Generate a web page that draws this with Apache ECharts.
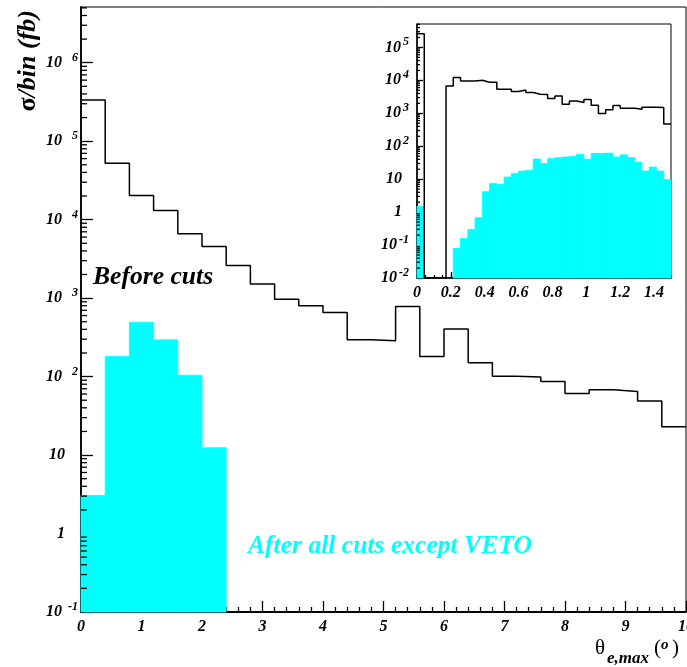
<!DOCTYPE html>
<html>
<head>
<meta charset="utf-8">
<script src="https://cdn.jsdelivr.net/npm/echarts@6/dist/echarts.min.js"></script>
<style>
html,body{margin:0;padding:0;background:#fff;}
#chart{width:687px;height:667px;}
</style>
</head>
<body>
<div id="chart"></div>
<script>
// ---------------- data ----------------
// Main plot: theta_e,max from 0 to 10 degrees, 25 bins of 0.4
const mainXRange = [0, 10];
const mainBinWidth = 0.4;
const mainYRange = [0.1, 5.13e6];
const mainBefore = [3.36e5, 5.25e4, 2.03e4, 1.31e4, 6590, 4540, 2600, 1510, 971, 798,
                    656, 294, 286, 782, 180, 403, 150, 101, 98.6, 86.7,
                    61, 68, 64.6, 49, 23];
const mainAfter  = [3.05, 180, 494, 294, 104, 12.4, 0, 0, 0, 0,
                    0, 0, 0, 0, 0, 0, 0, 0, 0, 0,
                    0, 0, 0, 0, 0];
// Inset: 0 to 1.5 degrees, 35 bins
const insetXRange = [0, 1.5];
const insetBinCount = 35;
const insetYRange = [0.01, 5.13e5];
const insetBefore = [2.6e5, 0, 0, 0, 6760, 12200, 9600, 9600, 10000, 8750,
                     8750, 5360, 5360, 4560, 5100, 4250, 3780, 3700, 2800, 3360,
                     1880, 2370, 2110, 2610, 1750, 980, 1290, 1710, 1420, 1420,
                     1320, 1520, 1520, 1490, 473];
const insetAfter  = [1.49, 0, 0, 0, 0, 0.079, 0.159, 0.298, 0.676, 4.17,
                     7.45, 6.95, 11.6, 15.0, 17.6, 18.5, 40.8, 29.6, 42, 45,
                     47, 49, 56.7, 40, 60.8, 60, 62, 47, 54.8, 45,
                     33, 17.6, 23.3, 17.6, 9.7];
// Texts
const yTitleSymbol = 'σ';
const yTitleRest = '/bin (fb)';
const labelBefore = 'Before cuts';
const labelAfter = 'After all cuts except VETO';

// ---------------- helpers ----------------
const FONT = '"Liberation Serif", "Times New Roman", serif';
const L = v => Math.round(Math.log10(v) * 1e9) / 1e9;
const CYAN = '#00ffff';

function stepData(lo, w, vals, vmin) {
  const pts = vals.map((v, i) => [lo + i * w, L(Math.max(v, vmin))]);
  pts.push([lo + vals.length * w, L(Math.max(vals[vals.length - 1], vmin))]);
  return pts;
}
function rectData(lo, w, vals) {
  const out = [];
  vals.forEach((v, i) => { if (v > 0) out.push([lo + i * w, lo + (i + 1) * w, L(v)]); });
  return out;
}
function minorTickData(xAt, logMin, logMax) {
  const out = [];
  for (let n = Math.floor(logMin); n < logMax; n++) {
    for (let k = 2; k <= 9; k++) {
      const l = n + Math.log10(k);
      if (l > logMin && l < logMax) out.push([xAt, l]);
    }
  }
  return out;
}
function rectSeries(xi, yi, data, yMinL) {
  return { type: 'custom', xAxisIndex: xi, yAxisIndex: yi, silent: true, z: 2,
    encode: { x: [0, 1], y: 2 }, data: data,
    renderItem: (params, api) => {
      const p0 = api.coord([api.value(0), api.value(2)]);
      const p1 = api.coord([api.value(1), yMinL]);
      return { type: 'rect', shape: { x: p0[0], y: p0[1], width: p1[0] - p0[0], height: p1[1] - p0[1] },
               style: { fill: CYAN, stroke: CYAN, lineWidth: 0.8 } };
    } };
}
function stepSeries(xi, yi, data) {
  return { type: 'line', xAxisIndex: xi, yAxisIndex: yi, data: data, step: 'end', symbol: 'none',
           silent: true, z: 3, lineStyle: { color: '#000', width: 1.5 } };
}
function tickSeries(xi, yi, data, len) {
  return { type: 'custom', xAxisIndex: xi, yAxisIndex: yi, silent: true, z: 5, clip: false,
    encode: { x: 0, y: 1 }, data: data,
    renderItem: (params, api) => {
      const c = api.coord([api.value(0), api.value(1)]);
      return { type: 'line', shape: { x1: c[0], y1: c[1], x2: c[0] + len, y2: c[1] },
               style: { stroke: '#000', lineWidth: 1.3 } };
    } };
}
function powFormatter(v) {
  const n = Math.round(v);
  if (Math.abs(v - n) > 1e-6) return '';
  if (n === 0) return '{b|1}{p| }';
  if (n === 1) return '{b|10}{p| }';
  return '{b|10}{' + (n < 0 ? 'en' : 'ep') + '|' + n + '}';
}
function richFor(epW, enW, pW) {
  const base = { fontFamily: FONT, fontStyle: 'italic', fontWeight: 'bold', color: '#000' };
  return {
    b: Object.assign({}, base, { fontSize: 16, lineHeight: 22 }),
    ep: Object.assign({}, base, { fontSize: 12, lineHeight: 12, verticalAlign: 'top', width: epW, align: 'right' }),
    en: Object.assign({}, base, { fontSize: 12, lineHeight: 12, verticalAlign: 'top', width: enW, align: 'right' }),
    p: Object.assign({}, base, { fontSize: 12, lineHeight: 22, width: pW })
  };
}
const labelFont = { fontFamily: FONT, fontStyle: 'italic', fontWeight: 'bold', fontSize: 16, color: '#000' };
const blackLine = w => ({ lineStyle: { color: '#000', width: w } });

const mainYMinL = L(mainYRange[0]), mainYMaxL = L(mainYRange[1]);
const insetYMinL = L(insetYRange[0]), insetYMaxL = L(insetYRange[1]);
const insetBinWidth = (insetXRange[1] - insetXRange[0]) / insetBinCount;

const chart = echarts.init(document.getElementById('chart'));
chart.setOption({
  animation: false,
  grid: [
    { left: 81, top: 7, width: 605, height: 605, show: true, borderColor: '#000', borderWidth: 1,
      backgroundColor: 'transparent', containLabel: false, outerBoundsMode: 'none' },
    { left: 417, top: 24, width: 254, height: 254, show: true, borderColor: '#000', borderWidth: 1,
      backgroundColor: 'transparent', containLabel: false, outerBoundsMode: 'none' }
  ],
  xAxis: [
    { gridIndex: 0, type: 'value', position: 'bottom', min: mainXRange[0], max: mainXRange[1], interval: 1,
      axisLine: Object.assign({ show: true, onZero: false }, blackLine(1.8)),
      axisTick: Object.assign({ show: true, inside: true, length: 11 }, blackLine(1.3)),
      minorTick: Object.assign({ show: true, splitNumber: 5, length: 5 }, blackLine(1.3)),
      splitLine: { show: false },
      axisLabel: Object.assign({ margin: 7 }, labelFont) },
    { gridIndex: 1, type: 'value', position: 'bottom', min: insetXRange[0], max: insetXRange[1], interval: 0.2,
      axisLine: Object.assign({ show: true, onZero: false }, blackLine(1.5)),
      axisTick: Object.assign({ show: true, inside: true, length: 6 }, blackLine(1.3)),
      splitLine: { show: false },
      axisLabel: Object.assign({ margin: 7, showMaxLabel: false }, labelFont) },
    { gridIndex: 1, type: 'value', position: 'bottom', min: insetXRange[0], max: insetXRange[1], interval: 0.05,
      axisLine: { show: false, onZero: false },
      axisTick: Object.assign({ show: true, inside: true, length: 3 }, blackLine(1.3)),
      splitLine: { show: false }, axisLabel: { show: false } }
  ],
  yAxis: [
    { gridIndex: 0, type: 'value', position: 'left', min: mainYMinL, max: mainYMaxL, interval: 1,
      axisLine: Object.assign({ show: true, onZero: false }, blackLine(1.8)),
      axisTick: Object.assign({ show: true, inside: true, length: 12 }, blackLine(1.3)),
      splitLine: { show: false },
      axisLabel: { show: true, margin: 3, showMaxLabel: false, formatter: powFormatter, rich: richFor(16, 16, 13) } },
    { gridIndex: 1, type: 'value', position: 'left', min: insetYMinL, max: insetYMaxL, interval: 1,
      axisLine: Object.assign({ show: true, onZero: false }, blackLine(1.5)),
      axisTick: Object.assign({ show: true, inside: true, length: 6 }, blackLine(1.3)),
      splitLine: { show: false },
      axisLabel: { show: true, margin: 8, showMaxLabel: false, formatter: powFormatter, rich: richFor(8, 12, 7) } }
  ],
  series: [
    rectSeries(0, 0, rectData(mainXRange[0], mainBinWidth, mainAfter), mainYMinL),
    stepSeries(0, 0, stepData(mainXRange[0], mainBinWidth, mainBefore, mainYRange[0])),
    tickSeries(0, 0, minorTickData(mainXRange[0], mainYMinL, mainYMaxL), 6),
    rectSeries(1, 1, rectData(insetXRange[0], insetBinWidth, insetAfter), insetYMinL),
    stepSeries(1, 1, stepData(insetXRange[0], insetBinWidth, insetBefore, insetYRange[0])),
    tickSeries(1, 1, minorTickData(insetXRange[0], insetYMinL, insetYMaxL), 3)
  ],
  graphic: [
    { type: 'text', x: 28, y: 10, rotation: Math.PI / 2, z: 10,
      style: { text: '{g|' + yTitleSymbol + '}{t|' + yTitleRest + '}', align: 'right', verticalAlign: 'middle',
        rich: { g: { fontFamily: FONT, fontWeight: 'bold', fontSize: 26, fill: '#000' },
                t: { fontFamily: FONT, fontWeight: 'bold', fontStyle: 'italic', fontSize: 26, fill: '#000' } } } },
    { type: 'text', x: 93, y: 277, z: 10,
      style: { text: labelBefore, fill: '#000', verticalAlign: 'middle',
        font: 'italic bold 25.6px "Liberation Serif", serif' } },
    { type: 'text', x: 248, y: 546, z: 10,
      style: { text: labelAfter, fill: CYAN, verticalAlign: 'middle',
        font: 'italic bold 25.6px "Liberation Serif", serif' } },
    { type: 'text', x: 595, y: 648, z: 10,
      style: { text: 'θ', fill: '#000', verticalAlign: 'middle', font: 'normal 21px "Liberation Serif", serif' } },
    { type: 'text', x: 607, y: 659, z: 10,
      style: { text: 'e,max', fill: '#000', verticalAlign: 'middle', font: 'italic bold 17px "Liberation Serif", serif' } },
    { type: 'text', x: 654, y: 648, z: 10,
      style: { text: '(', fill: '#000', verticalAlign: 'middle', font: 'normal 21px "Liberation Serif", serif' } },
    { type: 'text', x: 661, y: 645, z: 10,
      style: { text: 'o', fill: '#000', verticalAlign: 'middle', font: 'italic bold 15px "Liberation Serif", serif' } },
    { type: 'text', x: 672, y: 648, z: 10,
      style: { text: ')', fill: '#000', verticalAlign: 'middle', font: 'normal 21px "Liberation Serif", serif' } }
  ]
});
</script>
</body>
</html>
